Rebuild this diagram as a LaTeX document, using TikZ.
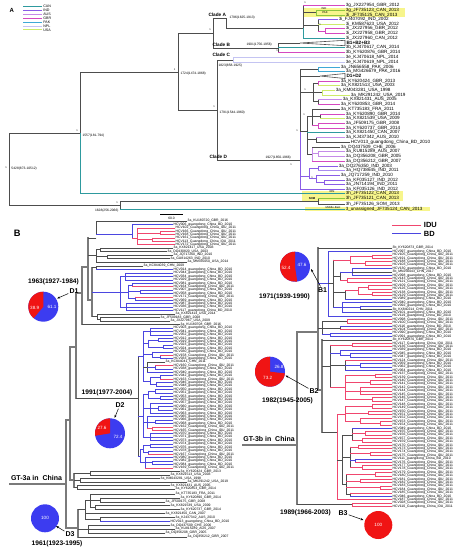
\documentclass[tikz,border=0pt]{standalone}
\usepackage{fontspec}
\setmainfont{Liberation Sans}
\usetikzlibrary{arrows.meta}
\definecolor{cCAN}{HTML}{2E9A9E}
\definecolor{cIND}{HTML}{8A5CE6}
\definecolor{cINDl}{HTML}{A98BEF}
\definecolor{cAUS}{HTML}{C58BE8}
\definecolor{cGBR}{HTML}{D548C0}
\definecolor{cPAK}{HTML}{3FA9D6}
\definecolor{cNPL}{HTML}{C4C4F2}
\definecolor{cUSA}{HTML}{CDEB6A}
\definecolor{cUSAg}{HTML}{8CC63F}
\definecolor{hly}{HTML}{F7F58C}
\definecolor{tgr}{HTML}{4D4D4D}
\definecolor{rd}{HTML}{F0466E}
\definecolor{bl}{HTML}{4B46E0}
\definecolor{spg}{HTML}{7A7A7A}
\definecolor{pr}{HTML}{F01414}
\definecolor{pb}{HTML}{3C3CF0}
\tikzset{
 A/.style={line width=0.6pt, draw=tgr, line cap=rect},
 Acol/.style={A, draw=#1},
 tb/.style={line width=0.55pt, line cap=rect},
 tbk/.style={tb, draw=tgr},
 tbr/.style={tb, draw=rd},
 tbb/.style={tb, draw=bl},
 sp/.style={line width=1.2pt, draw=spg, line cap=rect},
 labA/.style={font=\fontsize{4.6}{5}\selectfont, anchor=west, inner sep=0.5pt},
 labB/.style={font=\fontsize{3.4}{3.6}\selectfont, anchor=west, inner sep=0.4pt},
 leg/.style={font=\fontsize{3.6}{4}\selectfont, anchor=west, inner sep=0.8pt},
 dat/.style={font=\fontsize{3.3}{3.5}\selectfont, inner sep=0.3pt},
 sup/.style={font=\fontsize{2.6}{2.8}\selectfont, inner sep=0pt},
 cla/.style={font=\bfseries\fontsize{4.7}{5}\selectfont, anchor=west, inner sep=0.3pt},
 ann/.style={font=\fontsize{2.8}{3}\selectfont, inner sep=0pt},
 yr/.style={font=\bfseries\fontsize{6.6}{7}\selectfont, inner sep=0pt},
 dl/.style={font=\bfseries\fontsize{7}{8}\selectfont, inner sep=0.5pt},
 pn/.style={font=\fontsize{4.6}{5}\selectfont, text=white, inner sep=0pt},
 arr/.style={-{Stealth[length=3pt,width=2.2pt]}, line width=0.5pt, draw=black, shorten <=0.5pt}
}
\newcommand\THz[4][A]{\draw[#1] (#2,#4)--(#3,#4);}
\newcommand\TVt[4][A]{\draw[#1] (#2,#3)--(#2,#4);}
\newcommand\TLA[5][A]{\draw[#1] (#2,#4)--(#3,#4) node[labA]{#5};}
\newcommand\TLR[4]{\draw[tbr] (#1,#3)--(#2,#3) node[labB]{HCV#4\_Guangdong\_China\_IDU\_2011};}
\newcommand\TLB[4]{\draw[tbb] (#1,#3)--(#2,#3) node[labB]{HCV#4\_guangdong\_China\_BD\_2010};}
\newcommand\TLG[4]{\draw[tbk] (#1,#3)--(#2,#3) node[labB]{#4};}
\newcommand\TPie[5]{\fill[pb] (#1,#2) circle[radius=#3pt];
 \fill[pr] (#1,#2) -- ++(#4:#3pt) arc[start angle=#4, end angle=#5, radius=#3pt] -- cycle;}
\begin{document}
\begin{tikzpicture}[x=1pt,y=-1pt]
\fill[white] (0,0) rectangle (457,550);
\useasboundingbox (0,0) rectangle (457,550);
% ================= PANEL A =================
\node[font=\bfseries\fontsize{6}{7}\selectfont, inner sep=0pt] (pA) at (11.7,10.5) {A};
\foreach \yy/\cc/\nn in {6.7/cCAN/CAN, 10.7/cIND/IND, 14.5/cAUS/AUS, 18.3/cGBR/GBR, 22.2/cPAK/PAK, 26/cNPL/NPL, 29.8/cUSA/USA}
 {\draw[line width=1pt,draw=\cc] (23,\yy)--(42,\yy) node[leg]{\nn};}
% highlights
\fill[hly] (303,7.6) rectangle (405,17.4);
\fill[hly] (302,190.7) rectangle (403,200.6);
\fill[hly] (305,206.8) rectangle (430,211.4);
% backbone
\TVt{9}{133}{205}
\THz{9}{80}{133}
\THz{9}{120}{205}
\TVt{80}{72}{133}
\TVt[Acol=cCAN]{80}{133}{193}
\THz{80}{178}{72}
\TLA[Acol=cCAN]{80}{345}{193}{3h\_JF735122\_CAN\_2013}
\TVt{178}{33}{110}
\THz{178}{213}{33}
\THz{178}{217}{110}
\TVt{213}{18}{48}
\THz{213}{226}{18}
\TVt{226}{18}{28}
\THz{226}{303}{28}
% clade A
\TVt{303}{5}{28}
\TVt[Acol=cCAN]{303}{28}{38}
\TLA[Acol=cGBR]{303}{345}{5}{3g\_JX227954\_GBR\_2012}
\THz{303}{316}{12.5}
\TVt[Acol=cUSAg]{316}{10}{15}
\TLA[Acol=cUSAg]{316}{345}{10}{3g\_JF735123\_CAN\_2013}
\TLA[Acol=cUSAg]{316}{345}{15}{3i\_JF735125\_CAN\_2013}
\THz{303}{318}{25}
\TVt{318}{19.4}{31}
\TLA[Acol=cIND]{318}{338}{19.4}{3i\_FJ407092\_IND\_2002}
\TLA[Acol=cUSA]{318}{345}{24}{3i\_KM587623\_USA\_2012}
\THz[Acol=cGBR]{318}{325}{31}
\TVt[Acol=cGBR]{325}{28.7}{33.3}
\TLA[Acol=cGBR]{325}{345}{28.7}{3i\_JX227956\_GBR\_2012}
\TLA[Acol=cGBR]{325}{345}{33.3}{3i\_JX227958\_GBR\_2012}
\TLA[Acol=cCAN]{303}{345}{38}{3i\_JX227960\_CAN\_2012}
\node[ann] (aIND) at (324,8.2) {IND};
\node[ann] (aPAK) at (325,12.6) {PAK};
% clade B
\THz{213}{278}{48}
\TVt{278}{43}{52.3}
\THz{278}{300}{43}
\draw[A] (300,43)--(345,40.3)--(345,45.7)--cycle;
\node[cla] (tB) at (346,43) {B1+B2+B3};
\TLA[Acol=cCAN]{278}{345}{47.6}{3b\_KJ470617\_CAN\_2014}
\TLA[Acol=cGBR]{278}{345}{52.3}{3b\_KY620876\_GBR\_2014}
% clade C
\THz{217}{233}{60}
\TVt[Acol=cNPL]{233}{57}{62}
\TLA[Acol=cNPL]{233}{345}{57}{3e\_KJ470618\_NPL\_2014}
\TLA[Acol=cNPL]{233}{345}{62}{3e\_KJ470619\_NPL\_2014}
\TVt{217}{60}{160}
\THz{217}{300}{160}
% clade D
\TVt{300}{69}{131}
\TVt[Acol=cIND]{300}{131}{189}
\THz{300}{318}{69}
\TVt[Acol=cPAK]{318}{67}{71.5}
\TLA[Acol=cPAK]{318}{340}{67}{3a\_JN656558\_PAK\_2006}
\TLA[Acol=cPAK]{318}{345}{71.5}{3a\_MG426679\_PAK\_2016}
\THz{300}{320}{76}
\draw[A] (320,76)--(345,73.5)--(345,78.5)--cycle;
\node[cla] (tD) at (346,76) {D1+D2};
\THz{300}{313}{92}
\TVt{313}{83.2}{101.7}
\THz{313}{318}{83.2}
\TVt[Acol=cGBR]{318}{81}{85.5}
\TLA[Acol=cGBR]{318}{340}{81}{3a\_KY620424\_GBR\_2013}
\TLA[Acol=cUSA]{318}{340}{85.5}{3a\_KX821513\_USA\_2003}
\THz{313}{322}{92.5}
\TVt[Acol=cUSA]{322}{90}{95}
\TLA[Acol=cUSA]{322}{335}{90}{3a\_KM043281\_USA\_1998}
\TLA[Acol=cUSA]{322}{350}{95}{3a\_MK291242\_USA\_2019}
\THz{313}{318}{101.7}
\TVt{318}{99.5}{104}
\TLA[Acol=cAUS]{318}{342}{99.5}{3a\_KX821431\_AUS\_2005}
\TLA[Acol=cGBR]{318}{340}{104}{3a\_KY620853\_GBR\_2014}
\THz{300}{307}{131}
\TVt{307}{116.3}{154}
\THz{307}{312}{116.3}
\TVt{312}{109}{125.5}
\TLA{312}{340}{109}{3a\_KT735183\_FRA\_2011}
\THz{312}{320}{116.2}
\TVt{320}{114}{118.5}
\TLA[Acol=cGBR]{320}{345}{114}{3a\_KY620890\_GBR\_2014}
\TLA[Acol=cUSA]{320}{345}{118.5}{3a\_KX821539\_USA\_2009}
\THz[Acol=cGBR]{312}{318}{125.5}
\TVt[Acol=cGBR]{318}{123}{128}
\TLA[Acol=cGBR]{318}{345}{123}{3a\_JF509175\_GBR\_2008}
\TLA[Acol=cGBR]{318}{345}{128}{3a\_KY620737\_GBR\_2014}
\TLA[Acol=cCAN]{307}{345}{132.5}{3a\_KX821450\_CAN\_2007}
\THz{307}{316}{139.5}
\TVt{316}{137}{142}
\TLA[Acol=cAUS]{316}{345}{137}{3a\_KJ437342\_AUS\_2010}
\TLA{316}{350}{142}{HCV013\_guangdong\_China\_BD\_2010}
\THz{307}{312}{154}
\TVt[Acol=cAUS]{312}{147}{161}
\TLA{312}{340}{147}{3a\_DQ437509\_CHE\_2006}
\THz[Acol=cAUS]{312}{318}{153.7}
\TVt[Acol=cAUS]{318}{151.5}{156}
\TLA[Acol=cAUS]{318}{345}{151.5}{3a\_KU815289\_AUS\_2007}
\TLA[Acol=cAUS]{318}{345}{156}{3a\_DQ356208\_GBR\_2005}
\TLA[Acol=cGBR]{312}{345}{161}{3a\_DQ356212\_GBR\_2007}
\THz[Acol=cIND]{300}{309}{176}
\TVt[Acol=cIND]{309}{168.2}{178.5}
\THz[Acol=cIND]{309}{318}{168.2}
\TVt[Acol=cIND]{318}{166}{170.5}
\TLA[Acol=cIND]{318}{338}{166}{3a\_DQ276350\_IND\_2003}
\TLA[Acol=cINDl]{318}{345}{170.5}{3a\_HQ738645\_IND\_2011}
\THz[Acol=cIND]{309}{316}{178.5}
\TVt[Acol=cIND]{316}{175}{182}
\TLA[Acol=cIND]{316}{340}{175}{3a\_JQ717259\_IND\_2010}
\THz[Acol=cIND]{316}{324}{182}
\TVt[Acol=cIND]{324}{180}{184.5}
\TLA[Acol=cIND]{324}{345}{180}{3a\_KF035127\_IND\_2012}
\TLA[Acol=cIND]{324}{345}{184.5}{3a\_JN714194\_IND\_2011}
\TLA[Acol=cIND]{300}{345}{189}{3a\_KF035126\_IND\_2012}
% lower outgroups
\TVt{120}{201}{209}
\THz{120}{318}{201}
\TVt{318}{198}{204}
\TLA[Acol=cUSAg]{318}{345}{198}{3h\_JF735121\_CAN\_2013}
\TLA{318}{345}{204}{3h\_JF735126\_SOM\_2013}
\TLA[Acol=cCAN]{120}{345}{209}{3\_unassigned\_JF735124\_CAN\_2013}
\node[ann] (aIRN) at (332,191.6) {IRN};
\node[ann,font=\bfseries\fontsize{2.8}{3}\selectfont] (aSOM) at (312,199) {SOM};
\node[ann] (aME) at (333,207.2) {Middle-East};
% clade labels and dates
\node[cla] (cA) at (208,14.5) {Clade A};
\node[cla] (cB) at (212,44.5) {Clade B};
\node[cla] (cC) at (212,55.3) {Clade C};
\node[cla] (cD) at (209,157) {Clade D};
\node[dat,anchor=west] at (11,168.5) {5428(873-10512)};
\node[dat,anchor=west] at (82,135.5) {1557(181-794)};
\node[dat,anchor=west] at (180,73.5) {1724(1474-1868)};
\node[dat,anchor=west] at (229,18) {1796(1625-1913)};
\node[dat,anchor=west] at (246,44.5) {1901(1756-1956)};
\node[dat,anchor=west] at (218,66) {1823(858-1925)};
\node[dat,anchor=west] at (219,112.5) {1791(1544-1960)};
\node[dat,anchor=west] at (265,157.5) {1927(1850-1966)};
\node[dat,anchor=east] at (119,210.5) {1628(256-2066)};
\foreach \sx/\sy in {6/168, 77/130.5, 174.5/69.5, 210/30, 305/3, 320/25, 277/51, 214/107, 291/165, 297/131, 304/115, 305/90, 312/178, 117/203}
 {\node[sup] at (\sx,\sy) {1};}
\draw[line width=0.6pt] (160,214)--(183,214);
\node[dat] (scl) at (171.5,218) {60.0};
% ================= PANEL B =================
\node[font=\bfseries\fontsize{9.3}{10}\selectfont, inner sep=0pt] (pB) at (17.3,233.3) {B};
\draw[line width=0.9pt, draw=rd] (392,225)--(421,225) node[font=\bfseries\fontsize{7.5}{8}\selectfont, anchor=west, inner sep=2.5pt]{IDU};
\draw[line width=0.9pt, draw=bl] (392,233.8)--(421,233.8) node[font=\bfseries\fontsize{7.5}{8}\selectfont, anchor=west, inner sep=2.5pt]{BD};
% ---- left tree (GT-3a)
\draw[sp] (10,484)--(66,484);
\node[dl] (gt3a) at (36.5,477.5) {GT-3a in\ \ China};
\TVt[sp]{66}{420}{528}
\THz[sp]{66}{70}{420}
\THz[sp]{66}{78}{528}
\TVt[sp]{70}{347}{480}
\THz[sp]{70}{76}{347}
\THz[sp]{70}{74}{480}
\TVt[sp]{76}{293}{398}
\THz[sp]{76}{82}{293}
\THz[tbk]{76}{138}{398}
\TVt[sp]{82}{267}{324.5}
\THz[sp]{82}{88}{267}
\TLG{82}{180}{324.5}{3a\_KU180708\_GBR\_2016}
\TVt[sp]{88}{238}{300}
\THz[tbk]{88}{96}{238}
\TVt[tbk]{96}{221}{234}
\TLG{96}{187}{221}{3a\_KU180720\_GBR\_2016}
\THz[tbb]{96}{132}{234}
\TVt[tbb]{132}{224.5}{238}
\TLB{132}{173}{224.5}{006}
\THz[tbr]{132}{137}{238}
\TVt[tbr]{137}{228}{244.5}
\TLR{137}{175}{228}{102}
\THz[tbr]{137}{160}{232.95}
\TVt[tbr]{160}{231.3}{234.6}
\TLR{160}{175}{231.3}{166}
\TLR{160}{175}{234.6}{168}
\THz[tbr]{137}{152}{239.55}
\TVt[tbr]{152}{237.9}{241.2}
\TLR{152}{175}{237.9}{161}
\TLR{152}{175}{241.2}{113}
\TLR{137}{175}{244.5}{172}
\THz[tbk]{88}{96}{255}
\TVt[tbk]{96}{249.75}{262}
\THz[tbk]{96}{100}{249.75}
\TVt[tbk]{100}{248}{251.5}
\TLG{100}{173}{248}{3a\_KX821417\_USA\_2003}
\TLG{100}{167}{251.5}{3a\_DQ430820\_USA\_2003}
\THz[tbk]{96}{107}{256.75}
\TVt[tbk]{107}{255}{258.5}
\TLG{107}{173}{255}{3a\_JQ717260\_IND\_2010}
\TLG{107}{170}{258.5}{3a\_GU814263\_IND\_2010}
\TLG{96}{187}{262}{3a\_MN565050\_USA\_2014}
\THz[sp]{88}{92}{300}
\TVt[sp]{92}{267.75}{316.6}
\THz[tbk]{92}{96}{267.75}
\TVt[tbk]{96}{266}{269.5}
\TLG{96}{143}{266}{3a\_KC844039\_CHN\_2009}
\TLB{96}{173}{269.5}{014}
% D1
\THz[tbb]{92}{120}{292}
\TVt[tbb]{120}{276.4}{307}
\THz[tbb]{120}{125}{276.4}
\TVt[tbb]{125}{273}{279.8}
\TLB{125}{173}{273}{044}
\TLB{125}{173}{276.4}{034}
\TLB{125}{173}{279.8}{029}
\THz[tbb]{120}{128}{292}
\TVt[tbb]{128}{284.9}{298.5}
\THz[tbb]{128}{132}{284.9}
\TVt[tbb]{132}{283.2}{286.6}
\TLB{132}{173}{283.2}{081}
\TLR{132}{173}{286.6}{164}
\THz[tbb]{128}{140}{291.7}
\TVt[tbb]{140}{290}{293.4}
\TLB{140}{173}{290}{007}
\TLB{140}{173}{293.4}{058}
\THz[tbb]{128}{135}{298.5}
\TVt[tbb]{135}{296.8}{300.2}
\TLR{135}{173}{296.8}{171}
\TLB{135}{173}{300.2}{069}
\THz[tbb]{120}{126}{307}
\TVt[tbb]{126}{303.6}{310.4}
\TLB{126}{173}{303.6}{087}
\TLB{126}{173}{307}{036}
\TLB{126}{173}{310.4}{117}
\THz[tbk]{92}{97}{316.6}
\TVt[tbk]{97}{314}{319.25}
\TLG{97}{175}{314}{3a\_KX821414\_USA\_2014}
\THz[tbk]{97}{100}{319.25}
\TVt[tbk]{100}{317.5}{321}
\TLG{100}{160}{317.5}{3a\_JF509183\_GBR\_2008}
\TLG{100}{170}{321}{3a\_JX227967\_USA\_2009}
% D2
\TVt[line width=0.9pt, draw=tgr]{138}{356}{456}
\THz[tbb]{138}{143}{356}
\TVt[tbb]{143}{331.4}{380.9}
\THz[tbb]{143}{150}{331.4}\TVt[tbb]{150}{328}{334.8}
\TLB{150}{173}{328}{003}\TLB{150}{173}{331.4}{041}\TLB{150}{173}{334.8}{052}
\THz[tbb]{143}{148}{343.35}\TVt[tbb]{148}{339.9}{346.8}
\THz[tbb]{148}{158}{339.9}\TVt[tbb]{158}{338.2}{341.6}\TLB{158}{173}{338.2}{012}\TLB{158}{173}{341.6}{019}
\THz[tbb]{148}{163}{346.8}\TVt[tbb]{163}{345.1}{348.5}\TLB{163}{173}{345.1}{023}\TLB{163}{173}{348.5}{024}
\THz[tbb]{143}{152}{354.45}\TVt[tbb]{152}{351.9}{357}
\TLB{152}{173}{351.9}{030}
\THz[tbb]{152}{160}{357}\TVt[tbb]{160}{355.3}{358.7}\TLR{160}{173}{355.3}{158}\TLB{160}{173}{358.7}{033}
\THz[tbk]{143}{147}{367.2}\TVt[tbk]{147}{362.1}{372.3}
\TLG{147}{165}{362.1}{3a\_KC844041\_CHN\_2011}
\THz[tbb]{147}{155}{367.2}\TVt[tbb]{155}{365.5}{368.9}\TLR{155}{173}{365.5}{160}\TLB{155}{173}{368.9}{038}
\TLB{147}{173}{372.3}{040}
\THz[tbb]{143}{150}{380.9}\TVt[tbb]{150}{377.45}{384.3}
\THz[tbb]{150}{160}{377.45}\TVt[tbb]{160}{375.7}{379.2}\TLB{160}{173}{375.7}{042}\TLR{160}{173}{379.2}{163}
\THz[tbb]{150}{156}{384.3}\TVt[tbb]{156}{382.6}{386}\TLB{156}{173}{382.6}{046}\TLB{156}{173}{386}{048}
\THz[tbb]{138}{143}{416}
\TVt[tbb]{143}{394.5}{437.1}
\THz[tbb]{143}{148}{394.5}\TVt[tbb]{148}{391.1}{397.9}
\THz[tbb]{148}{155}{391.1}\TVt[tbb]{155}{389.4}{392.8}\TLB{155}{173}{389.4}{050}\TLB{155}{173}{392.8}{051}
\THz[tbb]{148}{160}{397.9}\TVt[tbb]{160}{396.2}{399.6}\TLB{160}{173}{396.2}{053}\TLB{160}{173}{399.6}{055}
\THz[tbb]{143}{150}{408.1}\TVt[tbb]{150}{403}{413.3}
\TLB{150}{173}{403}{057}
\THz[tbb]{150}{158}{408.1}\TVt[tbb]{158}{406.4}{409.8}\TLB{158}{173}{406.4}{060}\TLB{158}{173}{409.8}{061}
\TLB{150}{173}{413.3}{063}
\THz[tbb]{143}{147}{422.6}\TVt[tbb]{147}{416.7}{428.6}
\TLB{147}{173}{416.7}{065}
\THz[tbb]{147}{155}{421.8}\TVt[tbb]{155}{420.1}{423.5}\TLB{155}{173}{420.1}{066}\TLB{155}{173}{423.5}{068}
\THz[tbr]{147}{152}{428.6}\TVt[tbr]{152}{426.9}{430.3}\TLR{152}{173}{426.9}{162}\TLR{152}{173}{430.3}{165}
\THz[tbb]{143}{150}{437.1}\TVt[tbb]{150}{433.7}{440.5}
\TLB{150}{173}{433.7}{070}\TLB{150}{173}{437.1}{071}\TLB{150}{173}{440.5}{073}
\THz[tbb]{138}{140}{456}
\TVt[tbb]{140}{449}{462.7}
\THz[tbb]{140}{143}{449}\TVt[tbb]{143}{445.65}{452.5}
\THz[tbb]{143}{150}{445.65}\TVt[tbb]{150}{443.9}{447.4}\TLB{150}{173}{443.9}{074}\TLB{150}{173}{447.4}{076}
\THz[tbb]{143}{148}{452.5}\TVt[tbb]{148}{450.8}{454.2}\TLB{148}{173}{450.8}{078}\TLR{148}{173}{454.2}{167}
\THz[tbb]{140}{145}{462.7}\TVt[tbb]{145}{457.6}{467.8}
\TLB{145}{173}{457.6}{080}
\THz[tbb]{145}{152}{462.7}\TVt[tbb]{152}{461}{464.4}\TLB{152}{173}{461}{082}\TLB{152}{173}{464.4}{084}
\TLR{145}{173}{467.8}{169}
% K group
\TVt[sp]{74}{473.25}{487.25}
\THz[tbk]{74}{90}{473.25}\TVt[tbk]{90}{471.5}{475}
\TLG{90}{180}{471.5}{3a\_KY620424\_GBR\_2013}\TLG{90}{170}{475}{3a\_KX821513\_USA\_2003}
\THz[tbk]{74}{80}{480.25}\TVt[tbk]{80}{478.5}{482}
\TLG{80}{160}{478.5}{3a\_KM043281\_USA\_1998}\TLG{80}{187}{482}{3a\_MK291242\_USA\_2019}
\THz[tbk]{74}{77}{487.25}\TVt[tbk]{77}{485.5}{489}
\TLG{77}{170}{485.5}{3a\_KX821431\_AUS\_2005}\TLG{77}{175}{489}{3a\_KY620853\_GBR\_2014}
% D3
\TVt[sp]{78}{509.7}{536.9}
\THz[tbk]{78}{85}{509.7}\TVt[tbk]{85}{500.1}{519.35}
\THz[tbk]{85}{90}{500.1}\TVt[tbk]{90}{494}{507.65}
\TLG{90}{175}{494}{3a\_KT735183\_FRA\_2011}
\THz[tbk]{90}{100}{499.85}\TVt[tbk]{100}{497.9}{501.8}\TLG{100}{180}{497.9}{3a\_KY620890\_GBR\_2014}\TLG{100}{165}{501.8}{3a\_JF509175\_GBR\_2008}
\THz[tbk]{90}{95}{507.65}\TVt[tbk]{95}{505.7}{509.6}\TLG{95}{170}{505.7}{3a\_KX821539\_USA\_2009}\TLG{95}{180}{509.6}{3a\_KY620737\_GBR\_2014}
\TLG{85}{165}{513.5}{3a\_KX821450\_CAN\_2007}
\THz[tbk]{85}{100}{519.35}\TVt[tbk]{100}{517.4}{521.3}\TLG{100}{175}{517.4}{3a\_KJ437342\_AUS\_2010}\TLB{100}{170}{521.3}{013}
\THz[tbk]{78}{88}{529.1}\TVt[tbk]{88}{525.2}{533}
\TLG{88}{170}{525.2}{3a\_DQ437509\_CHE\_2006}\TLG{88}{175}{529.1}{3a\_KU815289\_AUS\_2007}\TLG{88}{165}{533}{3a\_DQ356208\_GBR\_2005}
\TLG{78}{187}{536.9}{3a\_DQ356212\_GBR\_2007}
% ---- right tree (GT-3b)
\draw[sp] (243,445)--(297,445);
\node[dl] (gt3b) at (269,439) {GT-3b in\ \ China};
\TVt[sp]{297}{332}{504.7}
\THz[sp]{297}{318}{332}
\THz[tbk]{297}{352}{504.7}
\TVt[tbr]{352}{503}{506.4}\TLR{352}{392}{503}{028}\TLR{352}{392}{506.4}{110}
\TVt[sp]{318}{248}{390}
\TLG{318}{392}{248}{3b\_KY620873\_GBR\_2014}
% B1
\THz[tbb]{318}{328}{283.5}
\TVt[tbb]{328}{251.4}{316}
\TLB{328}{392}{251.4}{097}
\THz[tbk]{328}{333}{283.5}
\TVt[tbk]{333}{259.9}{307.5}
\THz[tbr]{333}{350}{259.9}\TVt[tbr]{350}{256.5}{263.3}
\THz[tbr]{350}{372}{256.5}\TVt[tbr]{372}{254.8}{258.2}\TLR{372}{392}{254.8}{105}\TLR{372}{392}{258.2}{191}
\THz[tbr]{350}{365}{263.3}\TVt[tbr]{365}{261.6}{265}\TLR{365}{392}{261.6}{188}\TLR{365}{392}{265}{103}
\THz[tbk]{333}{340}{276}\TVt[tbk]{340}{271.8}{280.3}
\THz[tbb]{340}{352}{271.8}\TVt[tbb]{352}{268.4}{275.2}\TLB{352}{392}{268.4}{130}\TLG{352}{392}{271.8}{3b\_MN256043\_CHN\_2017}\TLB{352}{392}{275.2}{098}
\THz[tbr]{340}{347}{280.3}\TVt[tbr]{347}{278.6}{282}\TLR{347}{392}{278.6}{143}\TLR{347}{392}{282}{121}
\THz[tbk]{333}{345}{292.5}\TVt[tbk]{345}{290.5}{299}
\THz[tbr]{345}{358}{290.5}\TVt[tbr]{358}{287.1}{293.9}
\THz[tbr]{358}{368}{287.1}\TVt[tbr]{368}{285.4}{288.8}\TLR{368}{392}{285.4}{109}\TLR{368}{392}{288.8}{126}
\THz[tbr]{358}{372}{293.9}\TVt[tbr]{372}{292.2}{295.6}\TLR{372}{392}{292.2}{138}\TLR{372}{392}{295.6}{129}
\TLB{345}{392}{299}{089}
\THz[tbb]{333}{342}{307.5}\TVt[tbb]{342}{302.4}{312.6}
\TLB{342}{392}{302.4}{040}
\THz[tbb]{342}{360}{307.5}\TVt[tbb]{360}{305.8}{309.2}\TLB{360}{392}{305.8}{092}\TLG{360}{392}{309.2}{3b\_KX840214\_CHN\_2011}
\TLB{342}{392}{312.6}{101}
\TLB{328}{392}{316}{119}
% middle
\THz[tbk]{318}{322}{327.9}
\TVt[tbk]{322}{321.1}{334.7}
\THz[tbk]{322}{347}{321.1}\TVt[tbr]{347}{319.4}{322.8}\TLR{347}{392}{319.4}{098}\TLR{347}{392}{322.8}{100}
\THz[tbk]{322}{340}{327.9}\TVt[tbk]{340}{326.2}{329.6}\TLB{340}{392}{326.2}{116}\TLR{340}{392}{329.6}{104}
\THz[tbb]{322}{330}{334.7}\TVt[tbb]{330}{333}{336.4}\TLB{330}{392}{333}{090}\TLB{330}{392}{336.4}{091}
% B2
\THz[sp]{318}{322}{390}
\TVt[sp]{322}{339.8}{432}
\TLG{322}{392}{339.8}{3b\_KY620870\_GBR\_2014}
\THz[tbk]{322}{330}{366}
\TVt[tbk]{330}{344.9}{387}
\THz[tbr]{330}{352}{344.9}\TVt[tbr]{352}{343.2}{346.6}\TLR{352}{392}{343.2}{117}\TLR{352}{392}{346.6}{136}
\THz[tbb]{330}{340}{353.4}\TVt[tbb]{340}{350}{355.1}\TLB{340}{392}{350}{039}
\THz[tbb]{340}{350}{355.1}\TVt[tbb]{350}{353.4}{356.8}\TLB{350}{392}{353.4}{045}\TLB{350}{392}{356.8}{047}
\THz[tbk]{330}{345}{365.3}\TVt[tbk]{345}{360.2}{370.4}\TLR{345}{392}{360.2}{124}
\THz[tbb]{345}{360}{365.3}\TVt[tbb]{360}{363.6}{367}\TLB{360}{392}{363.6}{059}\TLB{360}{392}{367}{062}
\TLB{345}{392}{370.4}{064}
\THz[tbr]{330}{345}{387}\TVt[tbr]{345}{375.5}{399.3}
\THz[tbr]{345}{375}{375.5}\TVt[tbr]{375}{373.8}{377.2}\TLR{375}{392}{373.8}{137}\TLR{375}{392}{377.2}{139}
\THz[tbr]{345}{370}{382.3}\TVt[tbr]{370}{380.6}{384}\TLR{370}{392}{380.6}{140}\TLR{370}{392}{384}{141}
\THz[tbr]{345}{360}{390.8}\TVt[tbr]{360}{387.4}{394.2}\TLR{360}{392}{387.4}{142}\TLR{360}{392}{390.8}{144}\TLR{360}{392}{394.2}{145}
\THz[tbr]{345}{372}{399.3}\TVt[tbr]{372}{397.6}{401}\TLR{372}{392}{397.6}{146}\TLR{372}{392}{401}{147}
\THz[tbk]{322}{337}{432}
\TVt[tbr]{337}{414}{499.6}
\THz[tbr]{337}{345}{414}\TVt[tbr]{345}{406.1}{421.4}
\THz[tbr]{345}{372}{406.1}\TVt[tbr]{372}{404.4}{407.8}\TLR{372}{392}{404.4}{148}\TLR{372}{392}{407.8}{149}
\THz[tbr]{345}{368}{412.9}\TVt[tbr]{368}{411.2}{414.6}\TLR{368}{392}{411.2}{150}\TLR{368}{392}{414.6}{151}
\THz[tbr]{345}{360}{421.4}\TVt[tbr]{360}{418}{423.1}\TLR{360}{392}{418}{152}
\THz[tbr]{360}{380}{423.1}\TVt[tbr]{380}{421.4}{424.8}\TLR{380}{392}{421.4}{153}\TLR{380}{392}{424.8}{154}
\THz[tbk]{337}{342}{460}\TVt[tbk]{342}{435}{484}
\THz[tbk]{342}{352}{435}\TVt[tbk]{352}{428.2}{440.1}
\TLB{352}{392}{428.2}{049}
\THz[tbr]{352}{365}{433.3}\TVt[tbr]{365}{431.6}{435}\TLR{365}{392}{431.6}{155}\TLR{365}{392}{435}{156}
\THz[tbr]{352}{362}{440.1}\TVt[tbr]{362}{438.4}{441.8}\TLR{362}{392}{438.4}{157}\TLR{362}{392}{441.8}{159}
\THz[tbk]{342}{350}{457}\TVt[tbk]{350}{446.9}{467.3}
\THz[tbr]{350}{358}{446.9}\TVt[tbr]{358}{445.2}{448.6}\TLR{358}{392}{445.2}{170}\TLR{358}{392}{448.6}{173}
\THz[tbr]{350}{370}{453.7}\TVt[tbr]{370}{452}{455.4}\TLR{370}{392}{452}{174}\TLR{370}{392}{455.4}{175}
\THz[tbb]{350}{355}{460.5}\TVt[tbb]{355}{458.8}{462.2}\TLB{355}{392}{458.8}{111}\TLR{355}{392}{462.2}{176}
\THz[tbr]{350}{362}{467.3}\TVt[tbr]{362}{465.6}{469}\TLR{362}{392}{465.6}{177}\TLR{362}{392}{469}{178}
\THz[tbk]{342}{346}{484}\TVt[tbk]{346}{474.1}{494.5}
\THz[tbr]{346}{375}{474.1}\TVt[tbr]{375}{472.4}{475.8}\TLR{375}{392}{472.4}{179}\TLR{375}{392}{475.8}{180}
\THz[tbr]{346}{360}{480.9}\TVt[tbr]{360}{479.2}{482.6}\TLR{360}{392}{479.2}{181}\TLR{360}{392}{482.6}{182}
\THz[tbr]{346}{380}{487.7}\TVt[tbr]{380}{486}{489.4}\TLR{380}{392}{486}{183}\TLR{380}{392}{489.4}{184}
\THz[tbk]{346}{350}{494.5}\TVt[tbk]{350}{492.8}{496.2}\TLR{350}{392}{492.8}{185}\TLB{350}{392}{496.2}{046}
\TLR{337}{392}{499.6}{187}
% ---- pies, labels, arrows
\TPie{43.3}{306.7}{15}{90}{230}
\node[pn] at (34.7,307.7) {38.9};
\node[pn] at (52,306.7) {61.1};
\TPie{110}{433.3}{15}{90}{189.4}
\node[pn] at (102,428.3) {27.6};
\node[pn] at (118,436.7) {72.4};
\fill[pb] (45,518.3) circle[radius=14pt];
\node[pn] at (45,518.3) {100};
\TPie{295}{266.7}{15}{90}{278.6}
\node[pn] at (286,267.5) {52.4};
\node[pn] at (302,264.5) {47.6};
\TPie{270}{371.7}{15}{90}{353.5}
\node[pn] at (279,366.7) {26.8};
\node[pn] at (267.7,377.5) {73.2};
\fill[pr] (378.3,525) circle[radius=14pt];
\node[pn] at (378.3,525) {100};
\node[yr] (yD1) at (53.5,282) {1963(1927-1984)};
\node[dl] (D1) at (74,291) {D1};
\node[yr] (yD2) at (107,392.5) {1991(1977-2004)};
\node[dl] (D2) at (120,405) {D2};
\node[dl] (D3) at (70,534.5) {D3};
\node[yr] (yD3) at (57,543.5) {1961(1923-1995)};
\node[dl] (B1) at (322.5,290) {B1};
\node[yr] (yB1) at (284.5,297) {1971(1939-1990)};
\node[dl] (B2) at (314,391.5) {B2};
\node[yr] (yB2) at (287.5,400.7) {1982(1945-2005)};
\node[dl] (B3) at (343,512.8) {B3};
\node[yr] (yB3) at (305.5,513) {1989(1966-2003)};
\coordinate (d1t) at (57,298.5);
\coordinate (d2t) at (114.5,418);
\coordinate (d3t) at (56,526);
\coordinate (b1t) at (311,269);
\coordinate (b2t) at (285.5,375.5);
\coordinate (b3t) at (363.5,520);
\draw[arr] (D1) -- (d1t);
\draw[arr] (D2) -- (d2t);
\draw[arr] (D3) -- (d3t);
\draw[arr] (B1) -- (b1t);
\draw[arr] (B2) -- (b2t);
\draw[arr] (B3) -- (b3t);
\end{tikzpicture}
\end{document}
